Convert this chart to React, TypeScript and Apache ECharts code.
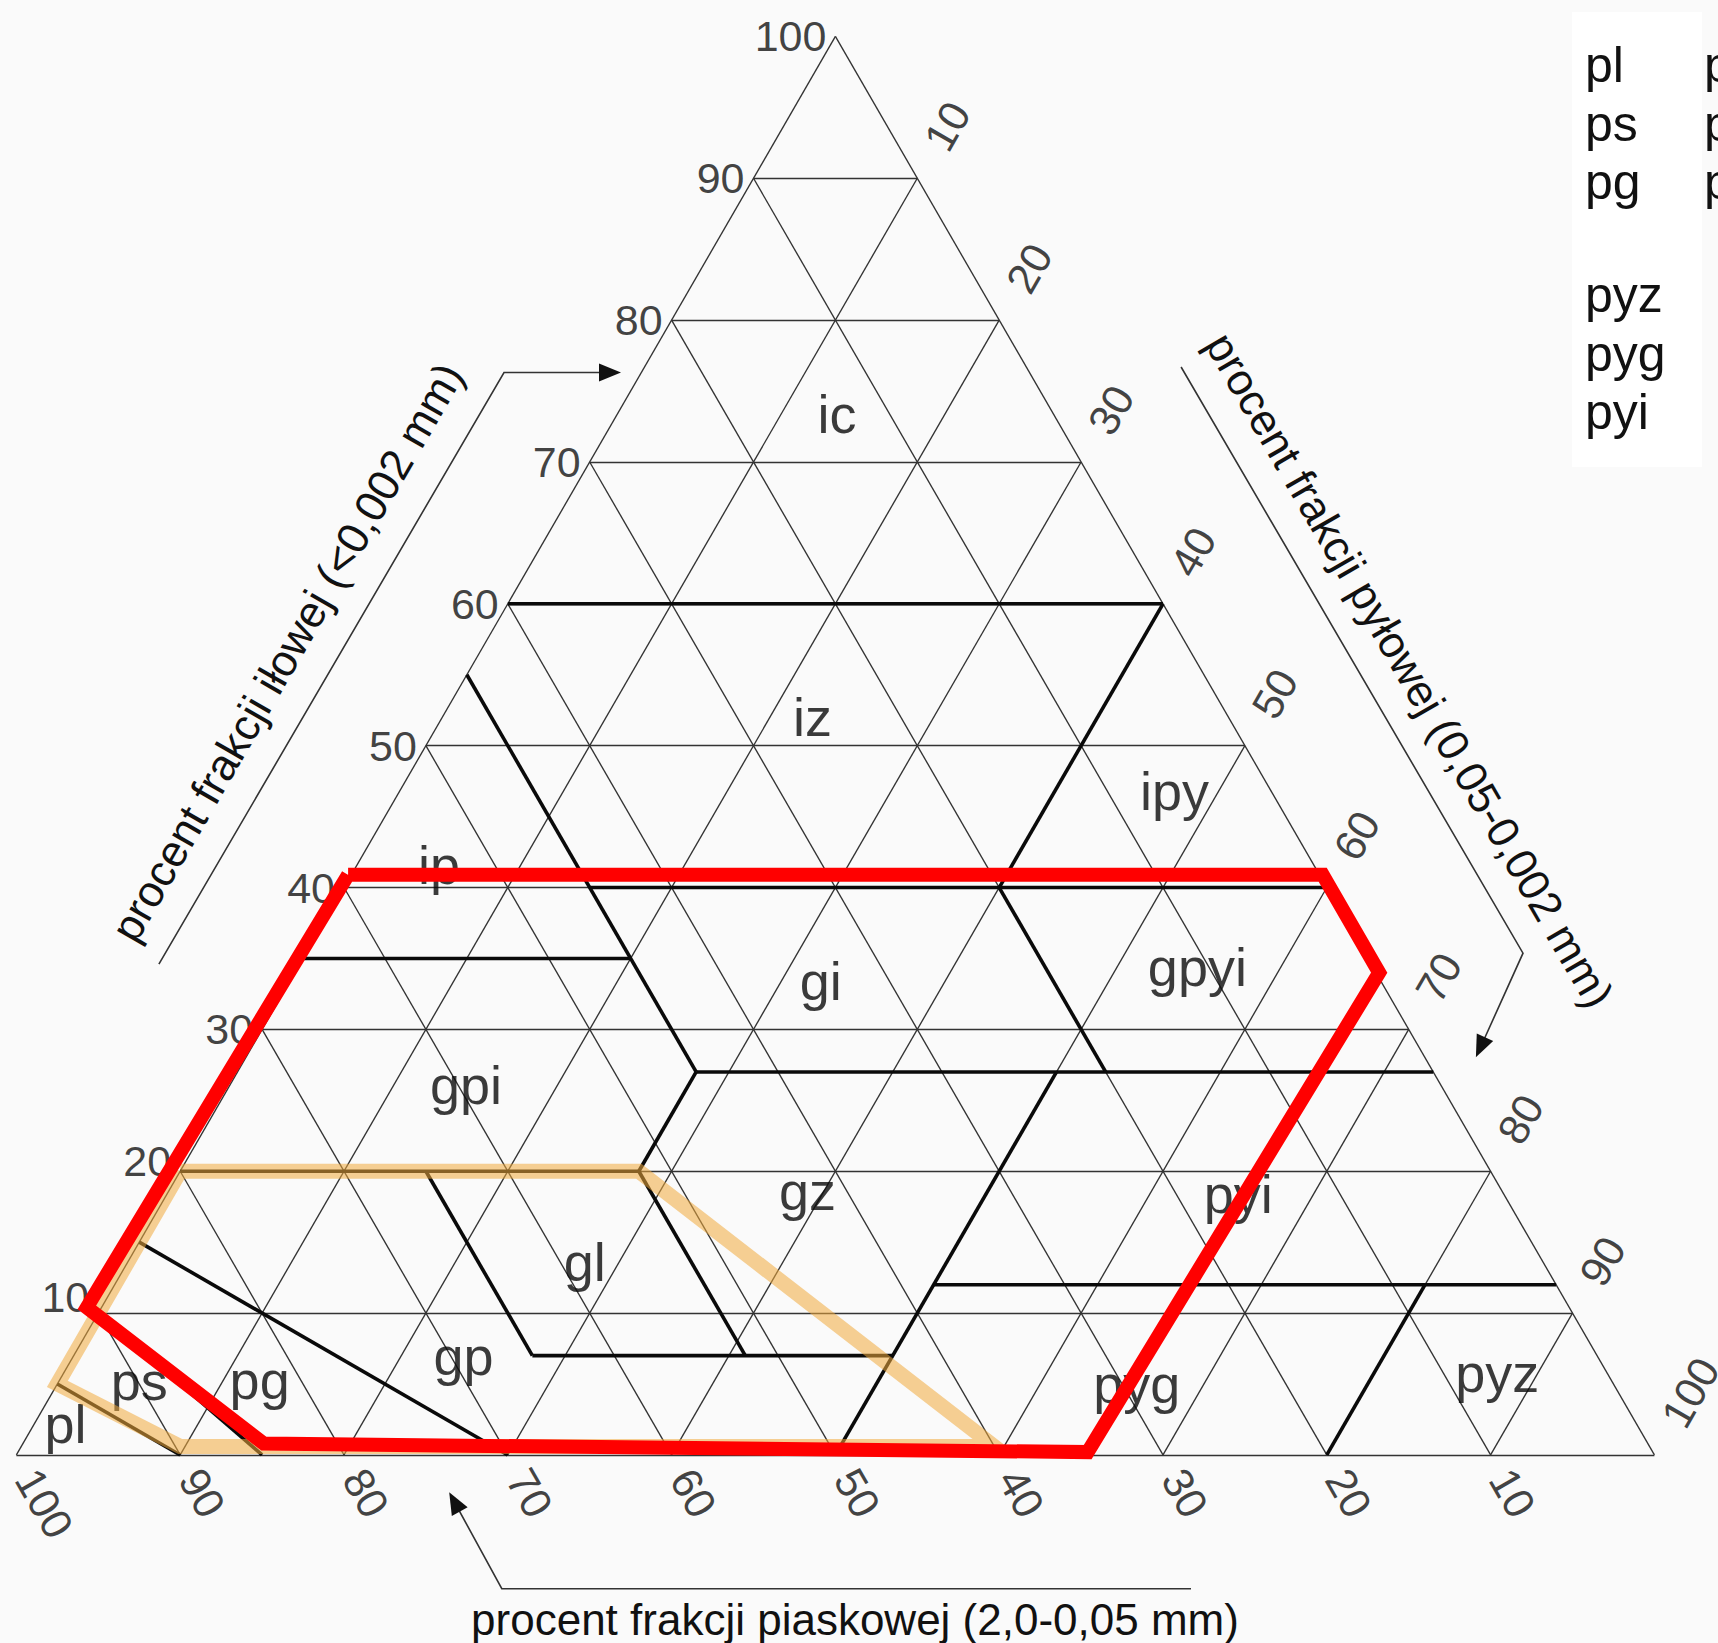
import React, { useEffect, useRef } from "react";
import * as echarts from "echarts";

const PAGE_W = 1718;
const PAGE_H = 1643;

// Triangle frame on the page (pixels)
const FRAME_LEFT = 16.4;
const FRAME_TOP = 36.4;
const SIDE = 1638;
const SQ3 = Math.sqrt(3) / 2;
const PX = SIDE / 100; // pixels per percent

const FONT = "'Liberation Sans', Arial, Helvetica, sans-serif";

// Internal grid steps (%)
const gridSteps = [10, 20, 30, 40, 50, 60, 70, 80, 90];

// Tick labels along each side (%)
const clayTicks = [10, 20, 30, 40, 50, 60, 70, 80, 90, 100];
const siltTicks = [10, 20, 30, 40, 50, 60, 70, 80, 90, 100];
const sandTicks = [100, 90, 80, 70, 60, 50, 40, 30, 20, 10];

// Texture-class limits: each run is a list of [clay %, silt %] vertices (sand = remainder)
const classBoundaries: [number, number][][] = [
  [[60, 0], [60, 40]], // clay 60
  [[60, 40], [40, 40]], // silt 40
  [[40, 15], [40, 60]], // clay 40
  [[55, 0], [27, 28]], // sand 45
  [[35, 0], [35, 20]], // clay 35
  [[27, 28], [20, 28]], // silt 28
  [[27, 28], [27, 73]], // clay 27
  [[40, 40], [27, 53]], // sand 20
  [[20, 0], [20, 28]], // clay 20
  [[20, 15], [7, 28]], // sand 65
  [[20, 28], [7, 41]], // sand 52
  [[7, 28], [7, 50]], // clay 7
  [[0, 50], [27, 50]], // silt 50
  [[12, 50], [12, 88]], // clay 12
  [[0, 80], [12, 80]], // silt 80
  [[15, 0], [0, 30]], // pg / gp
  [[10, 0], [0, 15]], // ps / pg
  [[5, 0], [0, 10]], // pl / ps
];

// Texture-class symbols
const classSymbols = [
  "ic", "iz", "ipy", "ip", "gi", "gpyi", "gpi", "gz",
  "gl", "pyi", "gp", "pg", "ps", "pl", "pyg", "pyz",
];

// Where each symbol is written, [clay %, silt %]
const SYMBOL_AT: Record<string, [number, number]> = {
  ic: [73.4, 13.4],
  iz: [52.0, 22.6],
  ipy: [46.8, 47.3],
  ip: [41.6, 5.0],
  gi: [33.4, 32.4],
  gpyi: [34.4, 54.9],
  gpi: [26.1, 14.4],
  gz: [18.6, 39.0],
  gl: [13.6, 27.9],
  pyi: [18.4, 65.4],
  gp: [7.0, 23.8],
  pg: [5.3, 12.2],
  ps: [5.2, 4.9],
  pl: [2.2, 1.9],
  pyg: [5.0, 65.9],
  pyz: [5.8, 87.5],
};

// Small vertical nudges (px) for the lowest clay tick labels
const CLAY_TICK_NUDGE: Record<number, number> = { 10: -16, 20: -10 };

// Highlighted groups, [clay %, silt %]
const redGroup: [number, number][] = [
  [40.9, -0.2], [40.9, 59.3], [34.0, 66.2], [0.2, 65.3],
  [0.8, 14.7], [10.4, -0.9], [40.9, -0.2],
];
const orangeGroup: [number, number][] = [
  [20, 0], [20, 28], [0.6, 59.4], [0.6, 9.7], [5, 0], [20, 0],
];

// Key of symbols
const legendCodes = ["pl", "ps", "pg", "pyz", "pyg", "pyi"];
const legendNames = ["piasek luźny", "piasek słabogliniasty", "piasek gliniasty"];

// ternary (clay, silt) -> cartesian data units
const toXY = (clay: number, silt: number): [number, number] => [
  silt + clay / 2,
  clay * SQ3,
];

function seg(a: [number, number], b: [number, number]) {
  return { coords: [toXY(a[0], a[1]), toXY(b[0], b[1])] };
}

function arrowHead(tip: number[], from: number[], len = 22, half = 9) {
  const dx = tip[0] - from[0];
  const dy = tip[1] - from[1];
  const d = Math.hypot(dx, dy);
  const ux = dx / d;
  const uy = dy / d;
  const bx = tip[0] - ux * len;
  const by = tip[1] - uy * len;
  return [
    [tip[0], tip[1]],
    [bx - uy * half, by + ux * half],
    [bx + uy * half, by - ux * half],
  ];
}

function buildOption() {
  // thin percent grid
  const gridLines: any[] = [];
  gridSteps.forEach((v) => {
    gridLines.push(seg([v, 0], [v, 100 - v])); // constant clay
    gridLines.push(seg([0, v], [100 - v, v])); // constant silt
    gridLines.push(seg([0, 100 - v], [100 - v, 0])); // constant sand
  });
  gridLines.push(seg([0, 0], [100, 0]));
  gridLines.push(seg([100, 0], [0, 100]));
  gridLines.push(seg([0, 100], [0, 0]));

  const boundaryLines = classBoundaries.map((run) => ({
    coords: run.map((p) => toXY(p[0], p[1])),
  }));

  const TICK_FS = 43;
  const halfW = (s: string) => (s.length * 0.556 * TICK_FS) / 2;

  const leftTicks = clayTicks.map((v) => ({
    name: String(v),
    value: toXY(v, 0),
    label: { offset: [0, CLAY_TICK_NUDGE[v] || 0] },
  }));
  const rightTicks = siltTicks.map((v) => {
    const [x, y] = toXY(100 - v, v);
    const t = (36 + halfW(String(v))) / PX;
    return { name: String(v), value: [x + 0.5 * t, y + SQ3 * t] };
  });
  const bottomTicks = sandTicks.map((v) => {
    const [x, y] = toXY(0, 100 - v);
    const t = (20 + halfW(String(v))) / PX;
    return { name: String(v), value: [x + 0.5 * t, y - SQ3 * t] };
  });

  const tickLabelBase = {
    show: true,
    formatter: "{b}",
    fontFamily: FONT,
    fontSize: TICK_FS,
    color: "#111",
  };

  const symbolData = classSymbols.map((s) => ({
    name: s,
    value: toXY(SYMBOL_AT[s][0], SYMBOL_AT[s][1]),
  }));

  const scatterBase = {
    type: "scatter",
    symbolSize: 0,
    silent: true,
    clip: false,
    z: 3,
  };

  // axis-title guide lines with arrows (page pixels)
  const leftGuide = [[158.9, 964.2], [504, 372.5], [612, 372.5]];
  const rightGuide = [[1181.1, 367], [1523, 953.2], [1482, 1044]];
  const bottomGuide = [[1191, 1588.7], [501.8, 1588.7], [455, 1503]];

  const guideStyle = { stroke: "#333", lineWidth: 1.6, fill: null };

  const LEG_FS = 50;
  const legendRows = [82, 141, 199, 312, 371, 429];

  const textStyle = (text: string, size: number, align = "left") => ({
    text,
    fontFamily: FONT,
    fontSize: size,
    fill: "#111",
    align,
    verticalAlign: "middle",
  });

  const graphic: any[] = [
    {
      type: "rect",
      z: -10,
      shape: { x: 1572, y: 12, width: 130, height: 455 },
      style: { fill: "#ffffff" },
      silent: true,
    },
    ...legendCodes.map((c, i) => ({
      type: "text",
      x: 1585,
      y: legendRows[i] - 0.35 * LEG_FS,
      silent: true,
      style: textStyle(c, LEG_FS),
    })),
    ...legendNames.map((n, i) => ({
      type: "text",
      x: 1704,
      y: legendRows[i] - 0.35 * LEG_FS,
      silent: true,
      style: textStyle(n, LEG_FS),
    })),
    { type: "polyline", silent: true, shape: { points: leftGuide }, style: guideStyle },
    {
      type: "polygon",
      silent: true,
      shape: { points: arrowHead([621, 372.5], [504, 372.5]) },
      style: { fill: "#111" },
    },
    { type: "polyline", silent: true, shape: { points: rightGuide }, style: guideStyle },
    {
      type: "polygon",
      silent: true,
      shape: { points: arrowHead([1475.9, 1057.3], [1523, 953.2]) },
      style: { fill: "#111" },
    },
    { type: "polyline", silent: true, shape: { points: bottomGuide }, style: guideStyle },
    {
      type: "polygon",
      silent: true,
      shape: { points: arrowHead([449.2, 1492.3], [501.8, 1588.7]) },
      style: { fill: "#111" },
    },
    {
      type: "text",
      x: 287,
      y: 652,
      rotation: Math.PI / 3,
      silent: true,
      style: textStyle("procent frakcji iłowej (<0,002 mm)", 44, "center"),
    },
    {
      type: "text",
      x: 1410,
      y: 670,
      rotation: -Math.PI / 3,
      silent: true,
      style: textStyle("procent frakcji pyłowej (0,05-0,002 mm)", 44, "center"),
    },
    {
      type: "text",
      x: 855,
      y: 1619,
      silent: true,
      style: textStyle("procent frakcji piaskowej (2,0-0,05 mm)", 44, "center"),
    },
  ];

  return {
    animation: false,
    backgroundColor: "#fafafa",
    grid: {
      left: FRAME_LEFT,
      top: FRAME_TOP,
      width: SIDE,
      height: SIDE * SQ3,
      containLabel: false,
    },
    xAxis: { type: "value", min: 0, max: 100, show: false },
    yAxis: { type: "value", min: 0, max: 100 * SQ3, show: false },
    graphic,
    series: [
      {
        type: "lines",
        coordinateSystem: "cartesian2d",
        silent: true,
        clip: false,
        z: 1,
        lineStyle: { color: "#333333", width: 1.35, opacity: 1 },
        data: gridLines,
      },
      {
        type: "lines",
        coordinateSystem: "cartesian2d",
        polyline: true,
        silent: true,
        clip: false,
        z: 2,
        lineStyle: { color: "#0a0a0a", width: 3.6, opacity: 1 },
        data: boundaryLines,
      },
      {
        ...scatterBase,
        data: symbolData,
        label: {
          show: true,
          position: "inside",
          formatter: "{b}",
          fontFamily: FONT,
          fontSize: 54,
          color: "#0a0a0a",
          align: "center",
          verticalAlign: "middle",
        },
      },
      {
        ...scatterBase,
        data: leftTicks,
        label: { ...tickLabelBase, position: "left", distance: 9 },
      },
      {
        ...scatterBase,
        data: rightTicks,
        label: {
          ...tickLabelBase,
          position: "inside",
          rotate: 60,
          align: "center",
          verticalAlign: "middle",
        },
      },
      {
        ...scatterBase,
        data: bottomTicks,
        label: {
          ...tickLabelBase,
          position: "inside",
          rotate: -60,
          align: "center",
          verticalAlign: "middle",
        },
      },
      {
        type: "lines",
        coordinateSystem: "cartesian2d",
        polyline: true,
        silent: true,
        clip: false,
        z: 4,
        lineStyle: {
          color: "rgba(240,170,60,0.55)",
          width: 15,
          opacity: 1,
          join: "miter",
        },
        data: [{ coords: orangeGroup.map((p) => toXY(p[0], p[1])) }],
      },
      {
        type: "lines",
        coordinateSystem: "cartesian2d",
        polyline: true,
        silent: true,
        clip: false,
        z: 5,
        lineStyle: { color: "#ff0000", width: 14, opacity: 1, join: "miter" },
        data: [{ coords: redGroup.map((p) => toXY(p[0], p[1])) }],
      },
    ],
  };
}

export default function App() {
  const ref = useRef<HTMLDivElement>(null);
  useEffect(() => {
    if (!ref.current) return;
    const chart = echarts.init(ref.current, null, { renderer: "svg" });
    chart.setOption(buildOption() as any);
    return () => chart.dispose();
  }, []);
  return (
    <div
      ref={ref}
      style={{
        position: "fixed",
        left: 0,
        top: 0,
        width: PAGE_W,
        height: PAGE_H,
        background: "#fafafa",
      }}
    />
  );
}
